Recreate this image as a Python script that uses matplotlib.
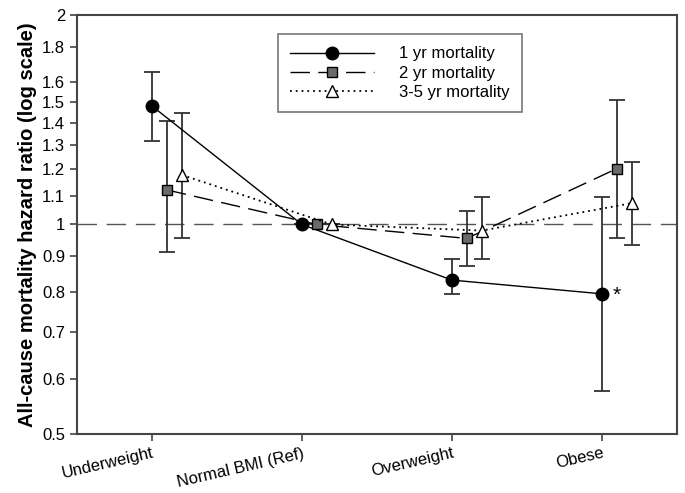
import matplotlib.pyplot as plt
from matplotlib.ticker import FixedLocator, NullLocator
import numpy as np

# Data
categories = ["Underweight", "Normal BMI (Ref)", "Overweight", "Obese"]

hr_1yr = [1.48, 1.00, 0.832, 0.795]
lo_1yr = [1.318, 1.00, 0.795, 0.577]
hi_1yr = [1.658, 1.00, 0.891, 1.096]

hr_2yr = [1.121, 1.00, 0.955, 1.203]
lo_2yr = [0.913, 1.00, 0.872, 0.955]
hi_2yr = [1.41, 1.00, 1.047, 1.51]

hr_35yr = [1.178, 1.00, 0.98, 1.073]
lo_35yr = [0.955, 1.00, 0.891, 0.934]
hi_35yr = [1.444, 1.00, 1.096, 1.231]

yticks = [0.5, 0.6, 0.7, 0.8, 0.9, 1, 1.1, 1.2, 1.3, 1.4, 1.5, 1.6, 1.8, 2]

plt.rcParams["font.family"] = ["Liberation Sans", "DejaVu Sans"]

fig = plt.figure(figsize=(6.85, 4.93), dpi=100)
ax = fig.add_axes([0.1124, 0.1197, 0.8756, 0.8499])

x = np.arange(len(categories))
ecol = "#333333"

# reference line at HR = 1
ax.axhline(1.0, color="#555555", lw=1.0, dashes=(14, 7), zorder=1)


def draw(offset, hr, lo, hi, style, label):
    xs = x + offset
    hr = np.array(hr)
    yerr = [hr - np.array(lo), np.array(hi) - hr]
    ax.errorbar(xs, hr, yerr=yerr, fmt="none", ecolor=ecol, elinewidth=1.3,
                capsize=6, capthick=1.3, zorder=2)
    ax.plot(xs, hr, label=label, zorder=3, **style)


draw(0.0, hr_1yr, lo_1yr, hi_1yr,
     dict(color="black", lw=1.0, marker="o", markersize=9,
          markerfacecolor="black", markeredgecolor="black"),
     "1 yr mortality")
draw(0.1, hr_2yr, lo_2yr, hi_2yr,
     dict(color="black", lw=1.0, dashes=(14, 6), marker="s", markersize=7,
          markerfacecolor="#6b6b6b", markeredgecolor="black"),
     "2 yr mortality")
draw(0.2, hr_35yr, lo_35yr, hi_35yr,
     dict(color="black", lw=1.3, dashes=(1, 2.2), marker="^", markersize=8,
          markerfacecolor="white", markeredgecolor="black"),
     "3-5 yr mortality")

# significance marker
ax.text(x[3] + 0.1, hr_1yr[3] * 0.995, "*", fontsize=15, ha="center", va="center")

ax.set_yscale("log")
ax.set_ylim(0.5, 2)
ax.set_xlim(-0.5, 3.5)
ax.yaxis.set_major_locator(FixedLocator(yticks))
ax.yaxis.set_minor_locator(NullLocator())
ax.set_yticklabels([f"{t:g}" for t in yticks], fontsize=12)
ax.set_xticks(x)
ax.set_xticklabels(categories, fontsize=12, rotation=13, ha="right",
                   rotation_mode="anchor")
ax.tick_params(axis="both", length=5, width=1.2, color="#444444")
ax.set_ylabel("All-cause mortality hazard ratio (log scale)", fontsize=14.5,
              fontweight="bold", labelpad=4)

for sp in ax.spines.values():
    sp.set_linewidth(1.5)
    sp.set_color("#444444")

leg = ax.legend(loc="upper left", bbox_to_anchor=(0.335, 0.955), fontsize=12,
                frameon=True, fancybox=False, edgecolor="#555555",
                handlelength=5.0, labelspacing=0.25, borderpad=0.75,
                handletextpad=1.5, borderaxespad=0)
leg.get_frame().set_linewidth(1.2)

fig.savefig("out.png", dpi=100)
